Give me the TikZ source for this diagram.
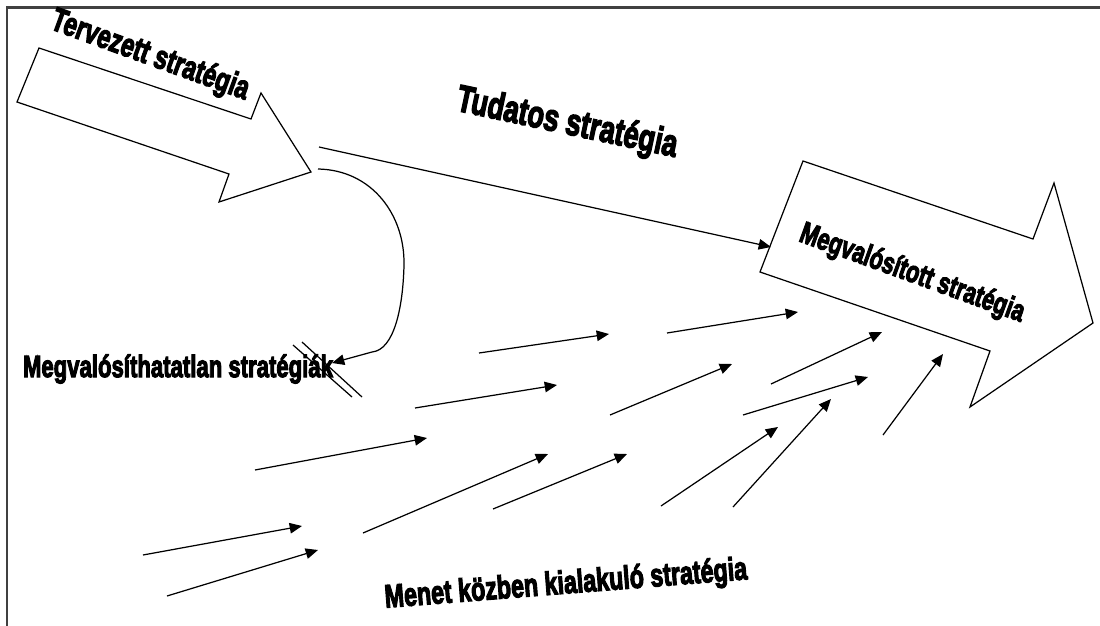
\documentclass[tikz,border=0pt]{standalone}
\usepackage{fontspec}
\usepackage{graphicx}
\newfontfamily\labelfont[BoldFeatures={FakeBold=4}]{Liberation Sans}
\usetikzlibrary{arrows.meta}

\newcommand{\narrow}[2]{\scalebox{0.72}[1]{\fontsize{#1}{#1}\selectfont #2}}

\tikzset{
  lbl/.style={font=\labelfont\bfseries, inner sep=0pt},
  bigarrow/.style={draw, line width=0.7pt, line join=miter},
  flow/.style={->, line width=0.7pt},
}

\begin{document}
\begin{tikzpicture}[x=0.02cm, y=-0.02cm, >={Triangle[length=7pt,width=6pt]}]
  \useasboundingbox (0,0) rectangle (1100,626);
  \draw[line width=1.2pt, black!75] (7,626) -- (7,7.5) -- (1100,7.5);

  % the two big arrows
  \draw[bigarrow] (39,48) -- (251,119) -- (261,93) -- (311,172) -- (219,202) -- (229,174) -- (17,102) -- cycle;
  \draw[bigarrow] (803,161) -- (1033,239) -- (1054,183) -- (1093,323) -- (970,407) -- (990,351) -- (760,272) -- cycle;

  \node[lbl, rotate=-20] (terv) at (150,56) {\narrow{18.8}{Tervezett stratégia}};
  \node[lbl, rotate=-12] (tud) at (567,124) {\narrow{21.5}{Tudatos stratégia}};
  \node[lbl, rotate=-20] (megv) at (912,274) {\narrow{17.2}{Megvalósított stratégia}};
  \node[lbl] (megvt) at (178,369) {\narrow{17.5}{Megvalósíthatatlan stratégiák}};
  \node[lbl, rotate=4.5] (menet) at (566,585) {\narrow{18.4}{Menet közben kialakuló stratégia}};

  % deliberate strategy
  \coordinate (t0) at (319,147);
  \coordinate (t1) at (771,247);
  \draw[flow] (t0) -- (t1);

  % unrealised strategy
  \coordinate (c0) at (318,169);
  \coordinate (c1) at (332,363);
  \draw[flow] (c0) .. controls (372,170) and (405,215) .. (404,265)
    .. controls (403,308) and (394,350) .. (372,352) -- (c1);
  \coordinate (ba1) at (293,345);
  \coordinate (ba2) at (352,397);
  \coordinate (bb1) at (302,342);
  \coordinate (bb2) at (362,397);
  \draw[line width=0.7pt] (ba1) -- (ba2);
  \draw[line width=0.7pt] (bb1) -- (bb2);

  % emergent strategy
  \coordinate (s1) at (143,555);
  \coordinate (e1) at (302,526);
  \coordinate (s2) at (167,596);
  \coordinate (e2) at (318,550);
  \coordinate (s3) at (255,470);
  \coordinate (e3) at (427,438);
  \coordinate (s4) at (363,533);
  \coordinate (e4) at (548,454);
  \coordinate (s5) at (415,408);
  \coordinate (e5) at (557,385);
  \coordinate (s6) at (479,353);
  \coordinate (e6) at (609,334);
  \coordinate (s7) at (493,509);
  \coordinate (e7) at (627,454);
  \coordinate (s8) at (610,415);
  \coordinate (e8) at (732,364);
  \coordinate (s9) at (667,333);
  \coordinate (e9) at (798,312);
  \coordinate (s10) at (661,506);
  \coordinate (e10) at (778,427);
  \coordinate (s11) at (733,507);
  \coordinate (e11) at (831,399);
  \coordinate (s12) at (743,415);
  \coordinate (e12) at (868,377);
  \coordinate (s13) at (771,384);
  \coordinate (e13) at (882,332);
  \coordinate (s14) at (883,435);
  \coordinate (e14) at (943,354);
  \draw[flow] (s1) -- (e1);
  \draw[flow] (s2) -- (e2);
  \draw[flow] (s3) -- (e3);
  \draw[flow] (s4) -- (e4);
  \draw[flow] (s5) -- (e5);
  \draw[flow] (s6) -- (e6);
  \draw[flow] (s7) -- (e7);
  \draw[flow] (s8) -- (e8);
  \draw[flow] (s9) -- (e9);
  \draw[flow] (s10) -- (e10);
  \draw[flow] (s11) -- (e11);
  \draw[flow] (s12) -- (e12);
  \draw[flow] (s13) -- (e13);
  \draw[flow] (s14) -- (e14);
\end{tikzpicture}
\end{document}
